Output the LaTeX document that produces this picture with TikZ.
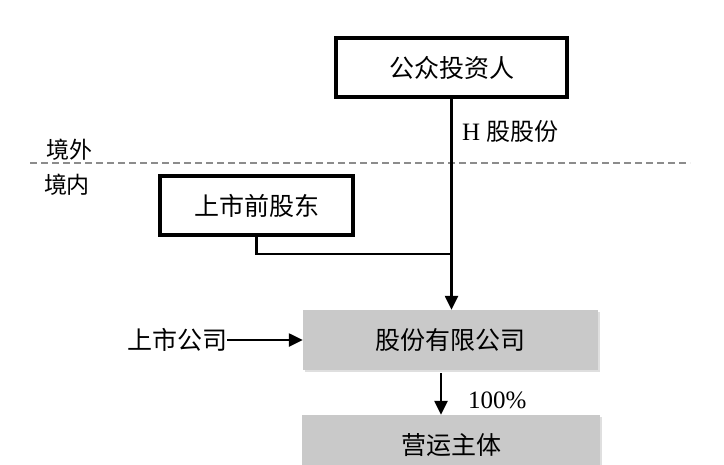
\documentclass[tikz,border=0pt]{standalone}
\usepackage{fontspec}
\setmainfont{Liberation Serif}
\newfontfamily\cjk{Noto Sans CJK SC}
\usetikzlibrary{positioning}
\usetikzlibrary{arrows.meta}
\usetikzlibrary{shadows}

\definecolor{boxgray}{RGB}{201,201,201}
\definecolor{dashgray}{RGB}{140,140,140}

\tikzset{
  framebox/.style={draw=black,line width=3.2pt,fill=white,font=\cjk\fontsize{25}{28}\selectfont,inner sep=0pt},
  graybox/.style={fill=boxgray,inner sep=0pt,font=\cjk\fontsize{25}{28}\selectfont,
    drop shadow={shadow xshift=1.5pt,shadow yshift=-2pt,fill=black!25,opacity=0.5}},
  label/.style={font=\cjk\fontsize{23}{26}\selectfont,inner sep=0pt},
  link/.style={line width=2.4pt},
  arrowlink/.style={line width=2.4pt,-{Triangle[length=14pt,width=13pt]}}
}

\begin{document}
\begin{tikzpicture}[x=1pt,y=-1pt]
 \useasboundingbox (0,0) rectangle (724,464);
 \clip (0,0) rectangle (724,464);
 % border line
 \draw[dashgray,line width=2pt,dash pattern=on 7pt off 4pt](30,163)--(690,163);
 \node[label] (abroad) at (69,150) {境外};
 \node[label] (domestic) at (67,185) {境内};
 % boxes
 \node[framebox,minimum width=231pt,minimum height=59pt] (investor) at (451.5,67.5) {公众投资人};
 \node[framebox,minimum width=193pt,minimum height=59pt] (preholder) at (256.5,205.5) {上市前股东};
 \node[graybox,minimum width=295pt,minimum height=60pt] (company) at (450.5,340) {股份有限公司};
 \node[graybox,minimum width=298pt,minimum height=60pt] (ops) at (451,445) {营运主体};
 \node[label,font=\cjk\fontsize{25}{28}\selectfont] (listed) at (177,340) {上市公司};
 % connectors
 \coordinate (join) at (investor.south |- 0,254);
 \coordinate (hit) at (investor.south |- company.north);
 \draw[arrowlink] (investor.south) -- (hit);
 \node[label,anchor=west] (hshare) at (462,131) {\fontsize{25}{28}\selectfont\rmfamily H \cjk\fontsize{24}{28}\selectfont 股股份};
 \draw[link] (preholder.south) |- (join);
 \draw[arrowlink] (listed.east) -- (company.west);
 \coordinate (sub) at ([xshift=-9.5pt]company.south);
 \draw[arrowlink] ([yshift=-3pt]sub) -- (sub |- ops.north);
 \node[anchor=west,inner sep=0pt,font=\fontsize{25}{28}\selectfont] (pct) at (468,400) {100\%};
\end{tikzpicture}
\end{document}
